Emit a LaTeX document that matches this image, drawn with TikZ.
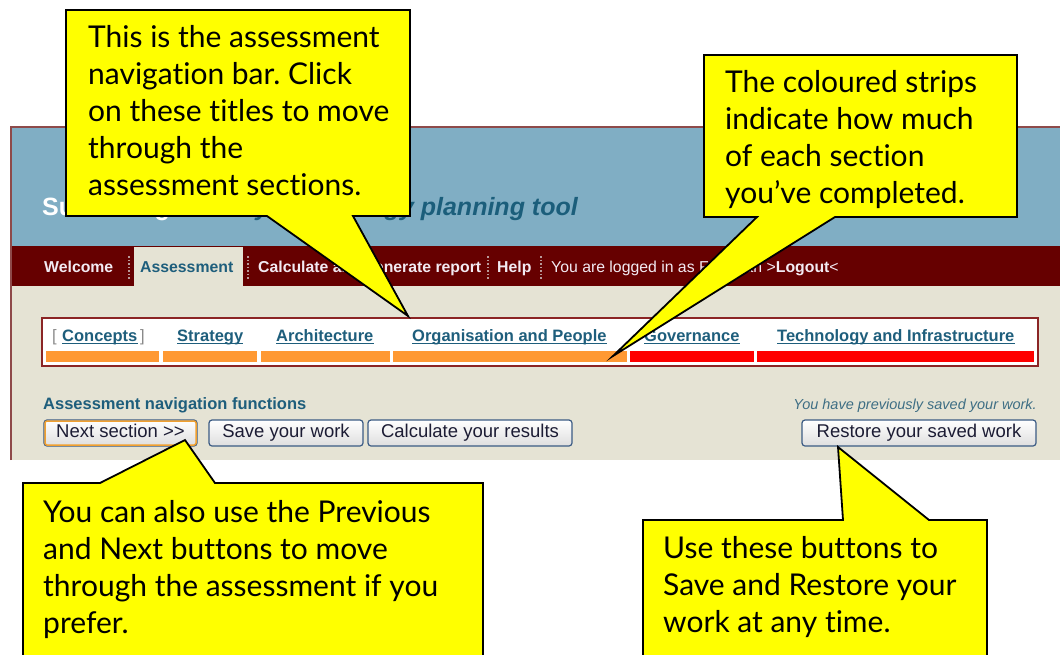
\documentclass[tikz,border=0pt]{standalone}
\usepackage{fontspec}
\setmainfont{Liberation Sans}
\newfontfamily\callfont[Ligatures={NoCommon,NoContextual}]{Lato}
\frenchspacing
\definecolor{headblue}{HTML}{80AEC4}
\definecolor{navred}{HTML}{660000}
\definecolor{beige}{HTML}{E5E3D4}
\definecolor{framec}{HTML}{8E4A4A}
\definecolor{teal1}{HTML}{1E5E7C}
\definecolor{titleteal}{HTML}{1B5E7B}
\definecolor{navwhite}{HTML}{F2EAF2}
\definecolor{stripor}{HTML}{FF9933}
\definecolor{stripred}{HTML}{FF0000}
\definecolor{btnborder}{HTML}{3B5B84}
\definecolor{btngray}{HTML}{DEDEDE}
\definecolor{btntext}{HTML}{1C1C34}
\definecolor{callyellow}{HTML}{FFFF00}
\definecolor{sepgray}{HTML}{B89A9A}
\definecolor{sectborder}{HTML}{8B2525}
\definecolor{bracketgray}{HTML}{8A8A8A}
\definecolor{noteteal}{HTML}{3E6E84}
\definecolor{btnorange}{HTML}{F0A030}
\begin{document}
\begin{tikzpicture}[x=1pt,y=-1pt,
  navt/.style={font=\bfseries\fontsize{15.8}{18}\selectfont, text=navwhite, inner sep=0, anchor=base west},
  sect/.style={font=\bfseries\fontsize{16.5}{18}\selectfont, text=teal1, inner sep=0, anchor=base west},
  btn/.style={draw=btnborder, line width=1.2, rounded corners=3, top color=white, bottom color=btngray,
    minimum height=26, inner sep=0, text height=13, text depth=4,
    font=\fontsize{18.5}{20}\selectfont, text=btntext},
  callout/.style={fill=callyellow, draw=black, line width=1.8, line join=miter},
  ct/.style={font=\callfont\fontsize{30}{37}\selectfont, inner sep=0, anchor=base west},
  sepline/.style={draw=sepgray, dotted, line width=1.5},
  ulstyle/.style={draw=teal1, line width=1}
]
\useasboundingbox (0,0) rectangle (1060,654);
\clip (0,0) rectangle (1060,654);
\fill[white] (0,0) rectangle (1060,654);

% ---- screenshot background
\fill[headblue] (11,127) rectangle (1070,246);
\fill[navred] (11,246) rectangle (1070,286);
\fill[beige] (11,286) rectangle (1070,460);
\fill[beige] (134,247) rectangle (243,286);
\draw[framec, line width=1.3] (11,460) -- (11,127) -- (1070,127);

% ---- title
\node[font=\bfseries\fontsize{25}{28}\selectfont, text=white, inner sep=0, anchor=base west] (ttl1) at (42,215) {Sustaining};
\node[font=\bfseries\itshape\fontsize{25}{28}\selectfont, text=titleteal, inner sep=0, anchor=base east] (ttl2) at (578,215) {your strategy planning tool};

% ---- navigation bar
\node[navt] (nWel) at (44,272) {Welcome};
\node[navt, text=teal1] (nAss) at (140,272) {Assessment};
\node[navt] (nCalc) at (258,272) {Calculate and generate report};
\node[navt] (nHelp) at (497,272) {Help};
\node[navt, font=\fontsize{15.8}{18}\selectfont] (nLog) at (551,272) {You are logged in as Freeman >\textbf{Logout}<};
\foreach \sx in {129,248,488,541}
  \draw[sepline] (\sx,256) -- (\sx,279);

% ---- section box
\draw[sectborder, line width=1.5, fill=white] (42,318) rectangle (1038,366);
\node[sect, text=bracketgray, font=\fontsize{16.5}{18}\selectfont] (bl) at (52,341) {[};
\node[sect] (sConc) at (62,341) {Concepts};
\node[sect, text=bracketgray, font=\fontsize{16.5}{18}\selectfont] (br) at (140,341) {]};
\node[sect] (sStrat) at (177,341) {Strategy};
\node[sect] (sArch) at (276,341) {Architecture};
\node[sect] (sOrg) at (412,341) {Organisation and People};
\node[sect] (sGov) at (644,341) {Governance};
\node[sect] (sTech) at (777,341) {Technology and Infrastructure};
\foreach \n in {sConc,sStrat,sArch,sOrg,sGov,sTech}
  \draw[ulstyle] ([yshift=-2.5pt]\n.base west) -- ([yshift=-2.5pt]\n.base east);
\fill[stripor] (46,351) rectangle (159,362);
\fill[stripor] (163,351) rectangle (257,362);
\fill[stripor] (261,351) rectangle (390,362);
\fill[stripor] (393,351) rectangle (627,362);
\fill[stripred] (630,351) rectangle (754,362);
\fill[stripred] (757,351) rectangle (1034,362);

% ---- functions
\node[sect] (fnl) at (43,409) {Assessment navigation functions};
\node[font=\itshape\fontsize{14.5}{16}\selectfont, text=noteteal, inner sep=0, anchor=base east] (note) at (1037,409) {You have previously saved your work.};
\node[btn, minimum width=153] (bNext) at (120.5,433) {Next section >\kern0pt>};
\draw[btnorange, line width=1.5, rounded corners=2] ([shift={(1.6pt,-1.6pt)}]bNext.north west) rectangle ([shift={(-1.6pt,1.6pt)}]bNext.south east);
\node[btn, minimum width=154] (bSave) at (286,433) {Save your work};
\node[btn, minimum width=204] (bCalc) at (470,433) {Calculate your results};
\node[btn, minimum width=234] (bRest) at (919,433) {Restore your saved work};

% ---- callout 1
\draw[callout] (66,10) -- (410,10) -- (410,216) -- (353,216) -- (408,316) -- (267,216) -- (66,216) -- cycle;
\foreach \t [count=\i] in {This is the assessment, navigation bar. Click, on these titles to move, through the, assessment sections.}
  \node[ct] (ca\i) at (88,{47+37*(\i-1)}) {\t};

% ---- callout 2
\draw[callout] (704,55) -- (1017,55) -- (1017,217) -- (835,217) -- (613,356) -- (757,217) -- (704,217) -- cycle;
\foreach \t [count=\i] in {The coloured strips, indicate how much, of each section, you’ve completed.}
  \node[ct] (cb\i) at (725,{92+37*(\i-1)}) {\t};

% ---- callout 3
\draw[callout] (23,483) -- (100,483) -- (185,440) -- (215,483) -- (483,483) -- (483,670) -- (23,670) -- cycle;
\foreach \t [count=\i] in {You can also use the Previous, and Next buttons to move, through the assessment if you, prefer.}
  \node[ct] (cc\i) at (43,{522+37*(\i-1)}) {\t};

% ---- callout 4
\draw[callout] (643,520) -- (843,520) -- (838,447) -- (929,520) -- (987,520) -- (987,670) -- (643,670) -- cycle;
\foreach \t [count=\i] in {Use these buttons to, Save and Restore your, work at any time.}
  \node[ct] (cd\i) at (663,{558+37*(\i-1)}) {\t};
\end{tikzpicture}
\end{document}
